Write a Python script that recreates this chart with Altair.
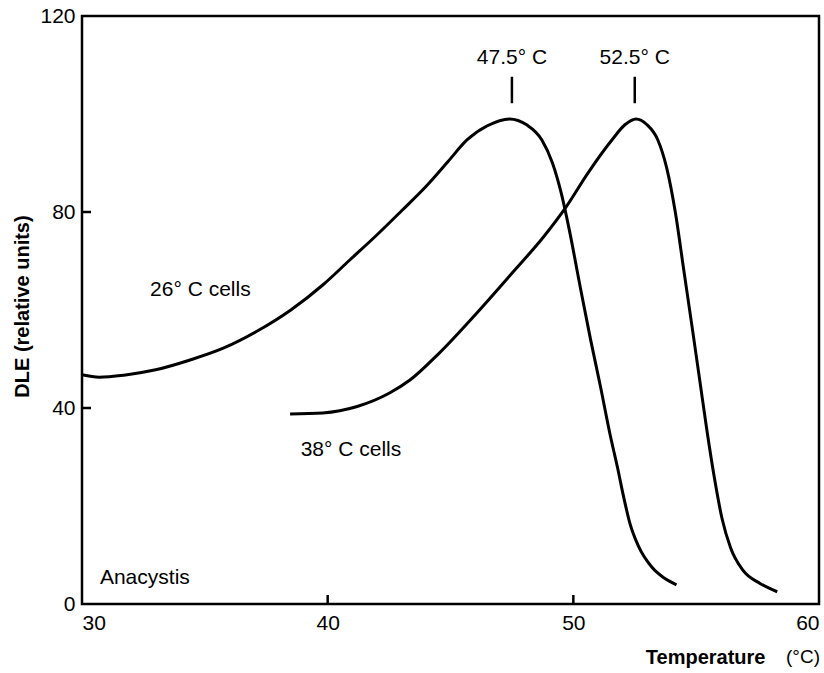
import altair as alt
import pandas as pd

# 26 °C cells curve
t26 = [30.0, 30.7, 31.7, 33.0, 34.4, 35.75, 37.1, 38.5, 39.8, 40.9, 42.0, 43.0, 44.0, 44.9, 45.67,
       46.5, 47.4, 48.1, 48.72, 49.15, 49.5, 49.85, 50.25, 50.7, 51.1, 51.5, 51.8, 52.05, 52.3,
       52.65, 53.2, 53.7, 54.2]
v26 = [46.8, 46.3, 46.7, 47.8, 49.8, 52.2, 55.6, 60.0, 65.1, 70.2, 75.3, 80.2, 85.2, 90.3, 94.7,
       97.6, 99.0, 97.8, 94.7, 90.0, 84.0, 76.0, 65.5, 54.0, 44.5, 34.5, 27.8, 21.8, 16.5,
       11.8, 7.5, 5.3, 3.9]

# 38 °C cells curve
t38 = [38.47, 39.8, 41.2, 42.5, 43.35, 44.5, 46.0, 47.5, 48.8, 49.7, 50.6, 51.57, 52.1, 52.55,
       53.0, 53.44, 53.8, 54.15, 54.5, 54.85, 55.15, 55.45, 55.75, 56.05, 56.4, 56.9, 57.6, 58.3]
v38 = [38.8, 39.0, 40.3, 43.0, 45.7, 51.0, 59.0, 67.5, 75.0, 81.0, 88.0, 94.7, 97.8, 99.0,
       97.8, 94.7, 89.0, 80.0, 68.0, 56.0, 45.5, 35.0, 25.5, 17.5, 11.5, 6.9, 4.2, 2.5]

x_ticks = [30, 40, 50, 60]
y_ticks = [0, 40, 80, 120]
x_inner_ticks = [40, 50]
y_inner_ticks = [40, 80]

peak_t = [47.5, 52.5]
peak_labels = ["47.5° C", "52.5° C"]
peak_tick_lo = 102.2
peak_tick_hi = 107.6
peak_label_v = 111.5

note_text = ["26° C cells", "38° C cells", "Anacystis"]
note_t = [32.77, 38.9, 30.73]
note_v = [64.1, 31.4, 5.3]

FONT = "Liberation Sans"
W, H = 737, 588

curves = pd.DataFrame({
    "T": t26 + t38,
    "V": v26 + v38,
    "series": ["26"] * len(t26) + ["38"] * len(t38),
})

xs = alt.Scale(domain=[30, 60], nice=False, zero=False)
ys = alt.Scale(domain=[0, 120], nice=False)

lines = alt.Chart(curves).mark_line(color="black", strokeWidth=3, interpolate="monotone").encode(
    x=alt.X("T:Q", scale=xs,
            axis=alt.Axis(values=x_ticks, title="Temperature", titleFontWeight="bold",
                          titleFontSize=20, titleFont=FONT, titleAlign="right",
                          titleX=683, titleY=53, titleBaseline="middle",
                          labelFontSize=21, labelFont=FONT, labelPadding=8, labelFlush=True,
                          ticks=False, domain=False, grid=False, labelColor="black",
                          titleColor="black")),
    y=alt.Y("V:Q", scale=ys,
            axis=alt.Axis(values=y_ticks, title="DLE (relative units)", titleFontWeight="bold",
                          titleFontSize=20, titleFont=FONT, titleAngle=270,
                          titleX=-60, titleY=290, titleAlign="center", titleBaseline="middle",
                          labelFontSize=21, labelFont=FONT, labelPadding=7,
                          ticks=False, domain=False, grid=False, labelColor="black",
                          titleColor="black")),
    detail="series:N",
)

xt = alt.Chart(pd.DataFrame({"T": x_inner_ticks})).mark_rule(color="black", strokeWidth=2.5).encode(
    x=alt.X("T:Q", scale=xs), y=alt.value(H), y2=alt.value(H - 9))
yt = alt.Chart(pd.DataFrame({"V": y_inner_ticks})).mark_rule(color="black", strokeWidth=2.5).encode(
    y=alt.Y("V:Q", scale=ys), x=alt.value(0), x2=alt.value(9))

peaks = pd.DataFrame({"T": peak_t, "lab": peak_labels,
                      "lo": [peak_tick_lo] * 2, "hi": [peak_tick_hi] * 2,
                      "lv": [peak_label_v] * 2})
pk_rule = alt.Chart(peaks).mark_rule(color="black", strokeWidth=2.5).encode(
    x=alt.X("T:Q", scale=xs), y=alt.Y("lo:Q", scale=ys), y2="hi:Q")
pk_text = alt.Chart(peaks).mark_text(font=FONT, fontSize=21, align="center", baseline="middle",
                                     color="black").encode(
    x=alt.X("T:Q", scale=xs), y=alt.Y("lv:Q", scale=ys), text="lab:N")

notes = pd.DataFrame({"T": note_t, "V": note_v, "txt": note_text})
nt = alt.Chart(notes).mark_text(font=FONT, fontSize=21, align="left", baseline="middle",
                                color="black").encode(
    x=alt.X("T:Q", scale=xs), y=alt.Y("V:Q", scale=ys), text="txt:N")

unit = alt.Chart(pd.DataFrame({"u": ["(°C)"]})).mark_text(
    font=FONT, fontSize=19, align="left", baseline="middle", color="black").encode(
    x=alt.value(704), y=alt.value(641), text="u:N")

chart = alt.layer(lines, xt, yt, pk_rule, pk_text, nt, unit).properties(
    width=W, height=H,
    autosize=alt.AutoSizeParams(type="none"),
    padding={"left": 82, "top": 16, "right": 5, "bottom": 69},
).configure(
    background="white",
    view=alt.ViewConfig(stroke="black", strokeWidth=2.5),
)

chart.save("out.html", embed_options={"renderer": "svg", "actions": False})
